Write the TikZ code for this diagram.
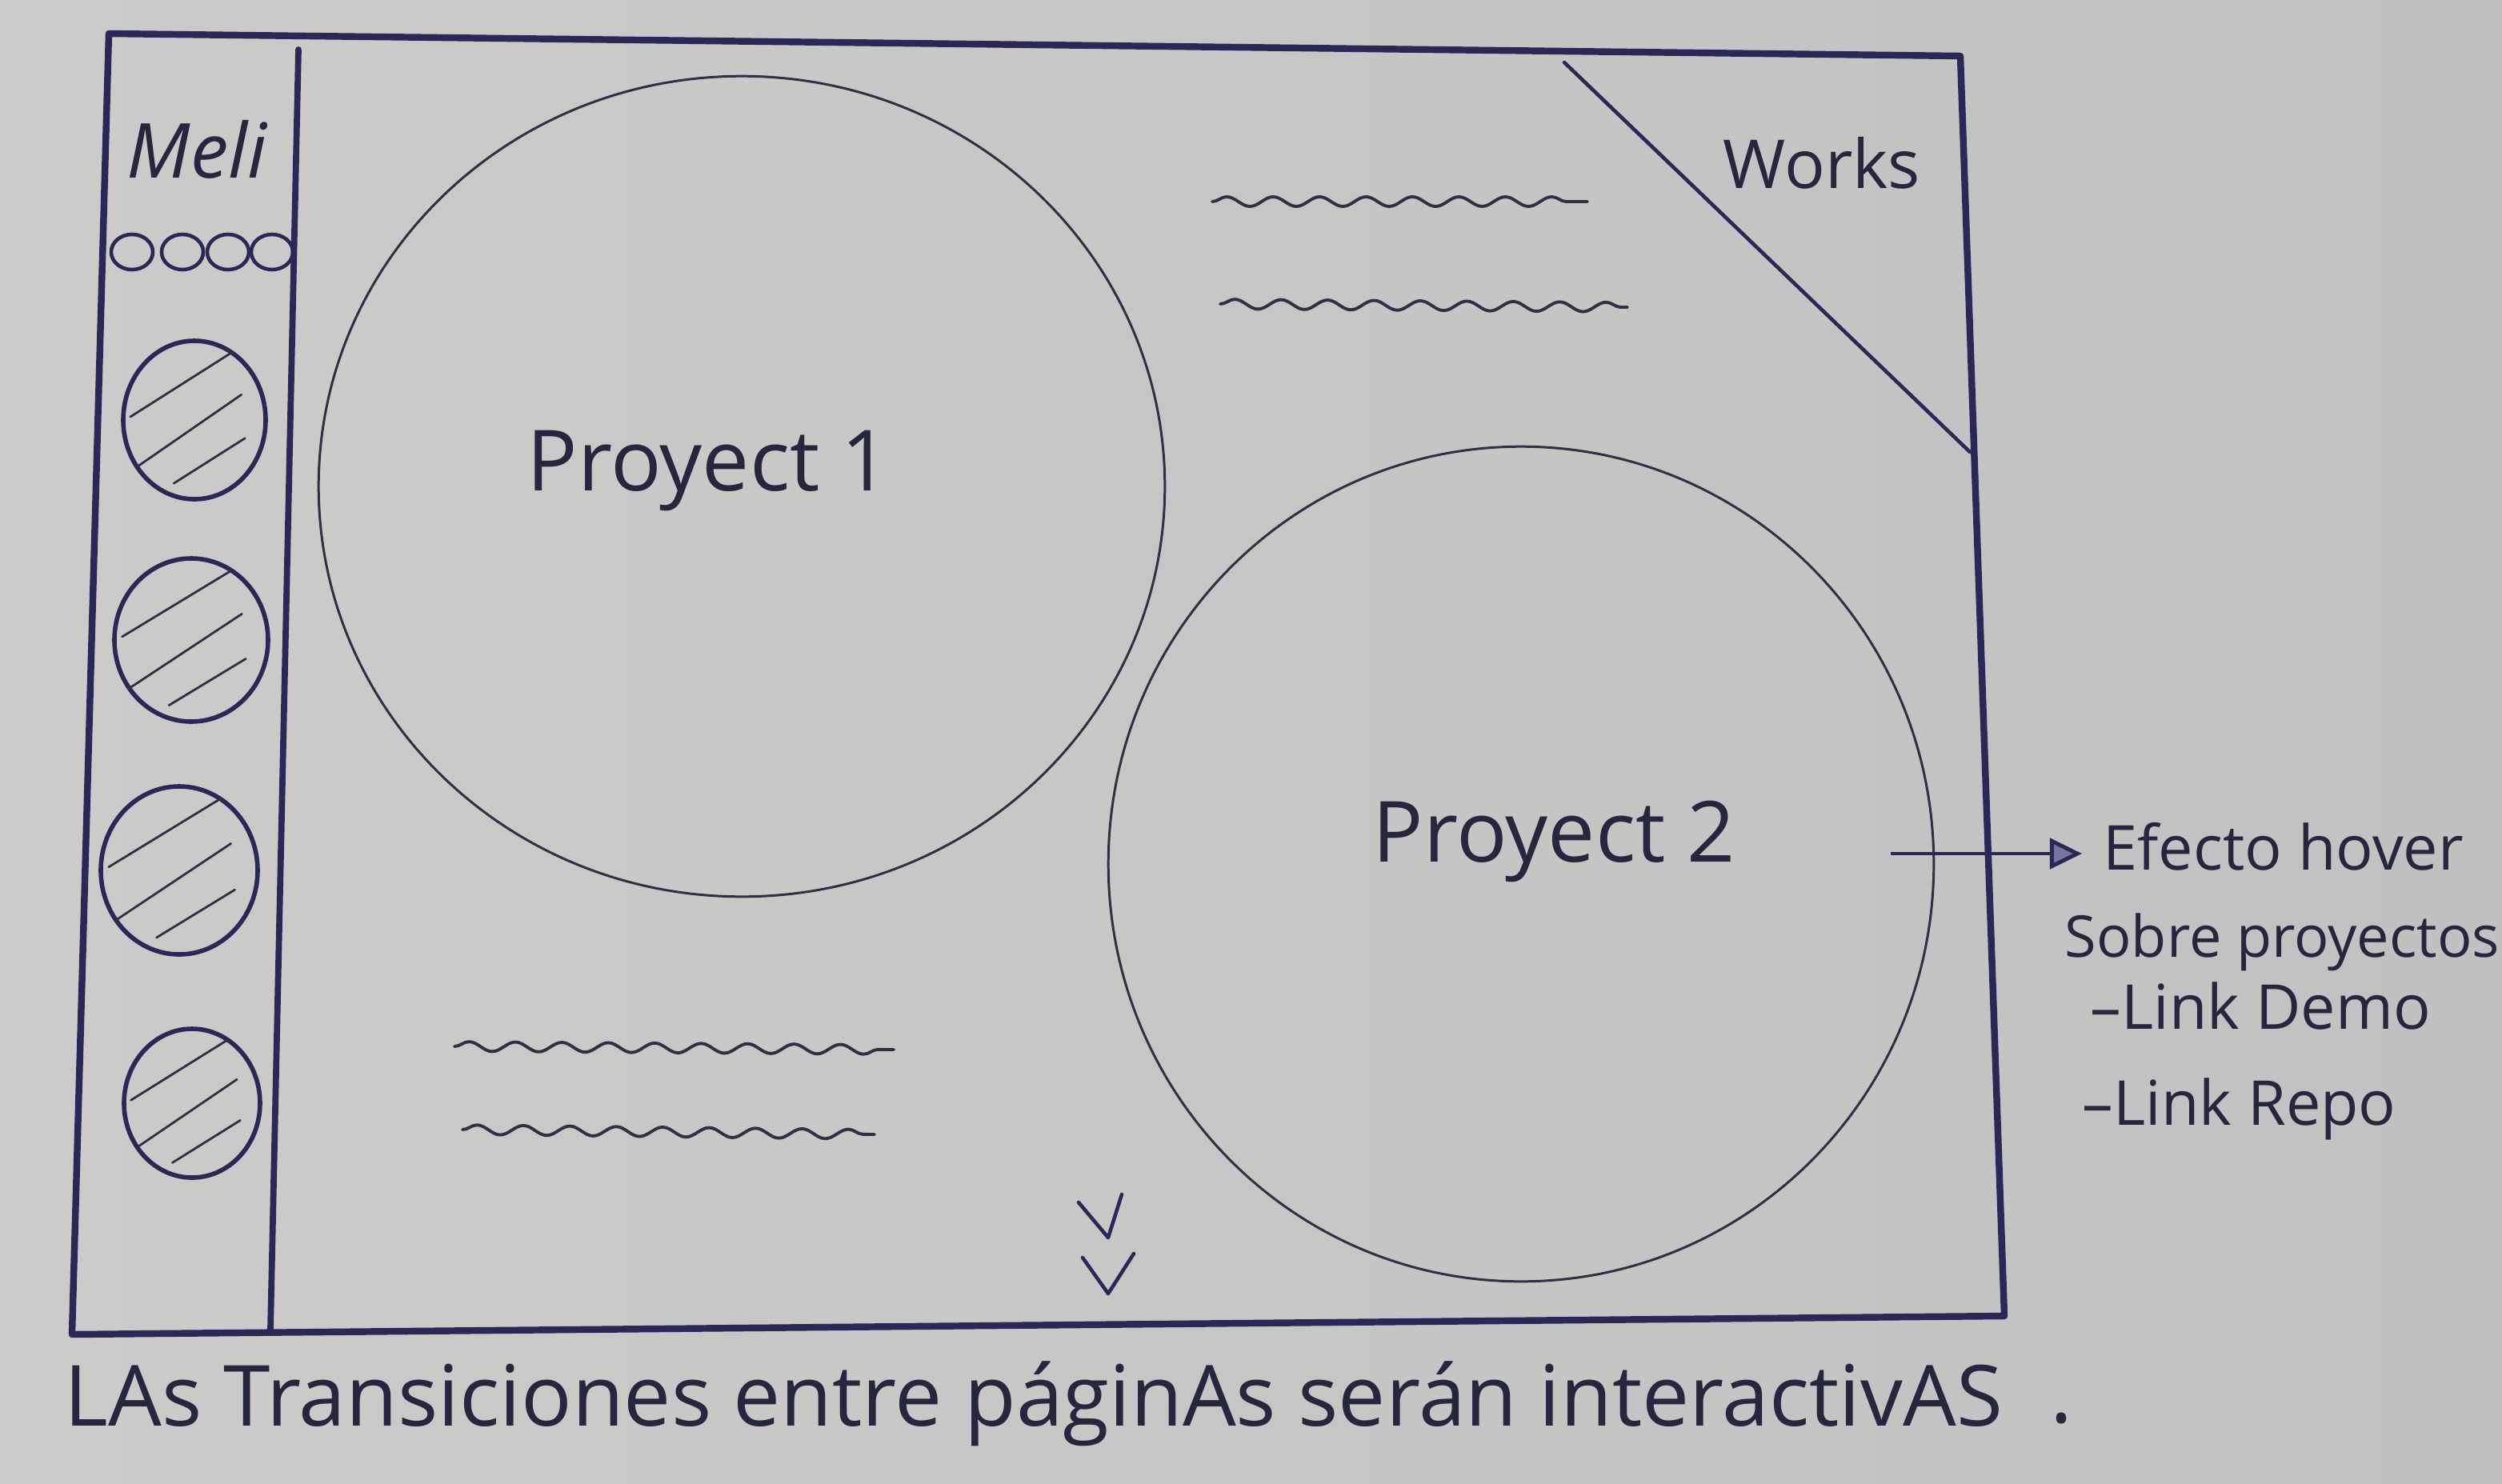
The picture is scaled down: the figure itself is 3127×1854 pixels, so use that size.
\documentclass[tikz,border=0pt]{standalone}
\usepackage{fontspec}
\setmainfont{Open Sans}
\usetikzlibrary{arrows.meta,decorations.pathmorphing,shapes.geometric}

\definecolor{paperL}{RGB}{204,203,202}
\definecolor{paperR}{RGB}{193,193,193}
\definecolor{ink}{RGB}{42,40,86}
\definecolor{pencil}{RGB}{48,48,68}
\definecolor{inktext}{RGB}{38,38,62}
\definecolor{tipfill}{RGB}{120,116,160}

\newcommand\handsize[1]{\fontsize{#1}{#1}\selectfont}

% a sidebar avatar: outlined ellipse with three diagonal hatch strokes
% #1 name, #2/#3 centre, #4/#5 radii (all in picture units)
\newcommand\hatchedball[5]{%
  \node[ball, minimum width={2*#4*0.01cm}, minimum height={2*#5*0.01cm}] (#1) at (#2,#3) {};
  \draw[hatch] ({#2-0.90*#4},{#3-0.04*#5}) -- ({#2+0.52*#4},{#3-0.85*#5});
  \draw[hatch] ({#2-0.82*#4},{#3+0.60*#5}) -- ({#2+0.66*#4},{#3-0.32*#5});
  \draw[hatch] ({#2-0.29*#4},{#3+0.80*#5}) -- ({#2+0.71*#4},{#3+0.23*#5});
}

\begin{document}
\begin{tikzpicture}[x=0.01cm,y=-0.01cm,
  frame/.style={draw=ink, line width=2.4pt, line join=round, line cap=round},
  divider/.style={draw=ink, line width=2.2pt, line cap=round},
  diag/.style={draw=ink, line width=1.3pt, line cap=round},
  bigcircle/.style={ellipse, draw=pencil, line width=0.85pt, inner sep=0pt, outer sep=0pt},
  ball/.style={ellipse, draw=ink, line width=1.6pt, inner sep=0pt, outer sep=0pt},
  dot/.style={ellipse, draw=ink, line width=1.3pt, inner sep=0pt, minimum width=0.52cm, minimum height=0.44cm},
  hatch/.style={draw=pencil, line width=0.8pt, line cap=round},
  scribble/.style={draw=pencil, line width=1.1pt, line cap=round, decorate,
    decoration={snake, segment length=0.58cm, amplitude=0.06cm}},
  chev/.style={draw=ink, line width=1.3pt, line cap=round, line join=round},
  pointer/.style={draw=ink, line width=1.4pt, -{Triangle[length=0.4cm, width=0.38cm, fill=tipfill]}},
  hand/.style={text=inktext, inner sep=0pt, anchor=base west}]

\useasboundingbox (0,0) rectangle (3127,1854);
\shade[left color=paperL, right color=paperR] (0,0) rectangle (3127,1854);

% page outline and sidebar divider
\draw[frame] (136,42) -- (2450,70) -- (2505,1645) -- (90,1668) -- cycle;
\draw[divider] (373,62) -- (338,1662);

% corner tab
\draw[diag] (1955,78) -- (2462,565);
\node[hand, font=\handsize{24}] (works) at (2153,235) {Works};

% sidebar: name, small icons, avatars
\node[hand, font=\itshape\handsize{27}] (meli) at (158,222) {Meli};
\foreach \i/\x in {1/165,2/228,3/285,4/340}
  \node[dot] (o\i) at (\x,315) {};
\hatchedball{b1}{243}{525}{89}{99}
\hatchedball{b2}{239}{800}{96}{102}
\hatchedball{b3}{224}{1088}{98}{105}
\hatchedball{b4}{240}{1379}{85}{93}

% project cards
\node[bigcircle, minimum width=10.57cm, minimum height=10.25cm] (p1) at (927,608) {};
\node[bigcircle, minimum width=10.31cm, minimum height=10.43cm] (p2) at (1901,1080) {};
\node[hand, font=\handsize{30}] (t1) at (658,613) {Proyect 1};
\node[hand, font=\handsize{30}] (t2) at (1715,1077) {Proyect 2};

% placeholder text lines
\draw[scribble] (1515,252) -- (1984,252);
\draw[scribble] (1525,380) -- (2034,384);
\draw[scribble] (568,1308) -- (1117,1312);
\draw[scribble] (578,1412) -- (1093,1418);

% scroll hint
\draw[chev] (1348,1503) -- (1385,1547) -- (1402,1493);
\draw[chev] (1353,1572) -- (1385,1617) -- (1417,1567);

% side notes
\coordinate (hs) at (2363,1067);
\node[hand, font=\handsize{22}] (n1) at (2628,1087) {Efecto hover};
\node[hand, font=\handsize{20.5}] (n2) at (2580,1196) {Sobre proyectos};
\node[hand, font=\handsize{22}] (n3) at (2612,1286) {–Link Demo};
\node[hand, font=\handsize{22}] (n4) at (2602,1406) {–Link Repo};
\draw[pointer, shorten >=0.26cm] (hs) -- (hs -| n1.west);

% footer note
\node[hand, font=\handsize{30}] (note) at (80,1782) {LAs Transiciones entre páginAs serán interactivAS};
\node[hand, font=\handsize{30}] (stop) at (2562,1778) {.};
\end{tikzpicture}
\end{document}
